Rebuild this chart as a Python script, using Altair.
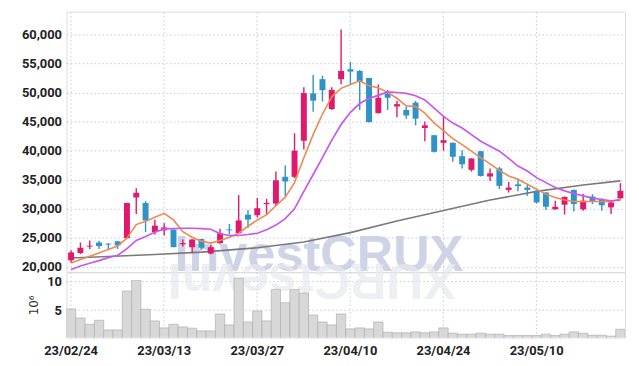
import altair as alt
import pandas as pd

dates = ["23/02/24", "23/02/27", "23/02/28",
         "23/03/02", "23/03/03", "23/03/06", "23/03/07", "23/03/08", "23/03/09", "23/03/10",
         "23/03/13", "23/03/14", "23/03/15", "23/03/16", "23/03/17",
         "23/03/20", "23/03/21", "23/03/22", "23/03/23", "23/03/24",
         "23/03/27", "23/03/28", "23/03/29", "23/03/30", "23/03/31",
         "23/04/03", "23/04/04", "23/04/05", "23/04/06", "23/04/07",
         "23/04/10", "23/04/11", "23/04/12", "23/04/13", "23/04/14",
         "23/04/17", "23/04/18", "23/04/19", "23/04/20", "23/04/21",
         "23/04/24", "23/04/25", "23/04/26", "23/04/27", "23/04/28",
         "23/05/02", "23/05/03", "23/05/04", "23/05/08", "23/05/09",
         "23/05/10", "23/05/11", "23/05/12", "23/05/15", "23/05/16",
         "23/05/17", "23/05/18", "23/05/19", "23/05/22", "23/05/23"]

opens = [21140, 22400, 23500, 24200, 24000, 24400, 24950, 31950, 31000, 26000,
         26300, 26400, 23900, 23400, 24800, 22300, 24100, 26450, 25800, 29000,
         28900, 30800, 30900, 35500, 35500, 41700, 49850, 52300, 47150, 52300,
         54000, 53700, 52500, 46450, 49850, 47600, 47000, 48250, 43900, 42650,
         41350, 41350, 39050, 36700, 39900, 35550, 36950, 33250, 34200, 33650,
         33100, 32800, 29900, 30700, 33250, 29900, 32100, 31650, 30250, 31800]
highs = [22850, 24200, 24550, 24500, 24100, 24500, 31050, 33550, 31300, 28100,
         27500, 26450, 24700, 24800, 24850, 23800, 26550, 27400, 32350, 29800,
         31850, 31700, 36400, 37500, 43000, 50900, 53000, 52900, 50900, 60850,
         55250, 53850, 52550, 51400, 50450, 48550, 47600, 48550, 45000, 42700,
         45900, 41400, 40050, 38700, 39950, 36950, 37200, 34650, 35200, 34250,
         33150, 32850, 31400, 32100, 33300, 32600, 32500, 31800, 31150, 34400]
lows = [20700, 22200, 23100, 23100, 22900, 23100, 24900, 29100, 26000, 25600,
        25400, 23400, 23500, 22400, 23000, 22200, 24000, 25600, 25700, 26700,
        28500, 29000, 30500, 32200, 35300, 40200, 46700, 48450, 47000, 51400,
        51400, 47000, 44900, 46400, 47000, 45750, 45500, 44350, 41600, 39700,
        40000, 38100, 36950, 36400, 35550, 34800, 33400, 32800, 33000, 32250,
        30900, 29800, 29900, 29000, 29550, 29650, 30800, 29650, 29100, 31700]
closes = [22500, 23300, 23650, 23600, 23850, 23700, 31000, 32750, 28000, 27100,
          26800, 23400, 24100, 24700, 23300, 23400, 25800, 26300, 28000, 28150,
          30100, 31000, 34900, 34700, 40000, 49900, 48600, 50400, 50450, 53700,
          53600, 51850, 44900, 49100, 49100, 48000, 46050, 45500, 44350, 39800,
          41800, 38950, 37650, 38650, 35650, 36100, 33950, 33650, 33900, 33250,
          31100, 30350, 30350, 32050, 30800, 31400, 31250, 30600, 31100, 33100]

ma5 = [20680, 21260, 21830, 22390, 23020, 23600, 24950, 27280, 27850, 28530,
       29210, 28090, 26050, 25120, 24440, 24100, 24560, 25120, 25800, 27000,
       28050, 28990, 30520, 32000, 34510, 38770, 42760, 46300, 49290, 50710,
       51390, 52020, 51170, 50830, 50030, 49010, 47700, 47590, 46440, 44730,
       43440, 42070, 41050, 39910, 38770, 37740, 36620, 35650, 35080, 34230,
       33370, 32520, 31940, 31500, 31260, 31260, 31260, 31260, 31260, 31670]
ma20 = [19550, 20170, 20630, 21090, 21600, 22000, 23140, 24560, 25240, 25970,
        26550, 26600, 26650, 26650, 26600, 26490, 25700, 25410, 25410, 25580,
        25800, 26380, 27200, 28300, 30000, 33000, 35900, 38800, 41800, 44500,
        46600, 48100, 49000, 49500, 50100, 50000, 49850, 49450, 48730, 47300,
        45900, 44740, 43890, 42750, 41610, 40760, 39910, 38660, 37350, 36500,
        35360, 34500, 33650, 33090, 32630, 32230, 31840, 31600, 31380, 31500]
ma60_dates = ["23/02/24", "23/03/03", "23/03/10", "23/03/17", "23/03/27", "23/04/03",
              "23/04/10", "23/04/17", "23/04/24", "23/05/02", "23/05/10", "23/05/17",
              "23/05/23"]
ma60 = [21540, 21800, 22150, 22550, 23300, 24300, 25900, 27900, 29700, 31500,
        33000, 34100, 34800]

volumes = [5.22, 3.67, 2.58, 3.27, 1.6, 1.6, 8.33, 10.17, 5.17, 3.16,
           1.95, 2.58, 2.12, 1.9, 1.43, 1.43, 4.36, 2.47, 10.57, 2.98,
           4.88, 3.16, 8.62, 6.31, 8.62, 7.98, 4.19, 2.98, 2.47, 4.36,
           1.78, 1.95, 1.78, 2.98, 1.2, 1.09, 1.09, 1.26, 1.09, 1.26,
           1.95, 1.03, 0.86, 0.86, 1.03, 0.86, 0.86, 0.62, 0.62, 0.62,
           0.62, 0.86, 0.62, 0.86, 1.26, 1.03, 0.67, 0.67, 0.52, 1.72]

tick_dates = ["23/02/24", "23/03/13", "23/03/27", "23/04/10", "23/04/24", "23/05/10"]
price_ticks = [20000, 25000, 30000, 35000, 40000, 45000, 50000, 55000, 60000]
volume_ticks = [5, 10]

RED = "#e2186c"
BLUE = "#2f93c7"
ORANGE = "#ee8a4f"
PURPLE = "#c957ef"
GRAY = "#7a7a7a"
GRID = "#c3c8dc"
FONT = "Roboto"

df = pd.DataFrame({
    "date": dates, "open": opens, "high": highs, "low": lows, "close": closes,
    "ma5": ma5, "ma20": ma20, "volume": volumes,
})
df["dir"] = ["up" if c >= o else "down" for o, c in zip(opens, closes)]
df60 = pd.DataFrame({"date": ma60_dates, "ma60": ma60})

W = 564
H_MAIN = 263
H_VOL = 66

xscale = alt.Scale(type="band", domain=dates, paddingInner=0, paddingOuter=0)
x_main = alt.X("date:O", scale=xscale, title=None,
               axis=alt.Axis(values=tick_dates, labels=False, ticks=False, domain=False,
                             grid=True, gridColor=GRID, gridDash=[1.5, 2.5]))
x_vol = alt.X("date:O", scale=xscale, title=None,
              axis=alt.Axis(values=tick_dates, labels=True, ticks=False, domain=False,
                            grid=True, gridColor=GRID, gridDash=[1.5, 2.5],
                            labelFont=FONT, labelFontWeight="bold", labelFontSize=13,
                            labelColor="#222", labelPadding=7, labelAngle=0,
                            labelOverlap=False))

yscale = alt.Scale(domain=[19100, 63900], zero=False, nice=False)
y_axis = alt.Axis(values=price_ticks, format=",d", ticks=False, domain=False,
                  grid=True, gridColor=GRID, gridDash=[1.5, 2.5],
                  labelFont=FONT, labelFontWeight="bold", labelFontSize=13,
                  labelColor="#222", labelPadding=5, labelOverlap=False,
                  minExtent=53, maxExtent=53)

color = alt.Color("dir:N", scale=alt.Scale(domain=["up", "down"], range=[RED, BLUE]), legend=None)

base = alt.Chart(df)

watermark = alt.Chart(pd.DataFrame({"t": ["InvestCRUX"]})).mark_text(
    font="Liberation Sans", fontWeight="bold", fontSize=51, color="#c9d0e4",
    align="left", baseline="alphabetic", opacity=0.9
).encode(text="t:N", x=alt.value(109), y=alt.value(262))

wicks = base.mark_rule(strokeWidth=1.4).encode(
    x=x_main, y=alt.Y("low:Q", scale=yscale, axis=y_axis, title=None), y2="high:Q", color=color)
bodies = base.mark_bar(width=6).encode(
    x=x_main, y=alt.Y("open:Q", scale=yscale, axis=y_axis, title=None), y2="close:Q", color=color)
line5 = base.mark_line(color=ORANGE, strokeWidth=1.6).encode(
    x=x_main, y=alt.Y("ma5:Q", scale=yscale, axis=y_axis, title=None))
line20 = base.mark_line(color=PURPLE, strokeWidth=1.7).encode(
    x=x_main, y=alt.Y("ma20:Q", scale=yscale, axis=y_axis, title=None))
line60 = alt.Chart(df60).mark_line(color=GRAY, strokeWidth=1.6).encode(
    x=x_main, y=alt.Y("ma60:Q", scale=yscale, axis=y_axis, title=None))

main = alt.layer(watermark, line60, wicks, bodies, line5, line20).properties(
    width=W, height=H_MAIN)

reflection = alt.Chart(pd.DataFrame({"t": ["XURCtsevnI"]})).mark_text(
    font="Liberation Sans", fontWeight="bold", fontSize=51, color="#e8e9ef",
    align="left", baseline="alphabetic", angle=180, opacity=0.7
).encode(text="t:N", x=alt.value(394), y=alt.value(-8))

vol_bars = base.mark_bar(color="#d8d8d8", stroke="#b0b0b0", strokeWidth=0.7, clip=True).encode(
    x=x_vol,
    y=alt.Y("volume:Q", scale=alt.Scale(domain=[0.28, 11.6], zero=False, nice=False),
            title="10⁶",
            axis=alt.Axis(values=volume_ticks, format="d", ticks=False, domain=False,
                          grid=True, gridColor=GRID, gridDash=[1.5, 2.5],
                          labelFont=FONT, labelFontWeight="bold", labelFontSize=13,
                          labelColor="#222", labelPadding=5, labelOverlap=False,
                          minExtent=18, maxExtent=18,
                          titleFont="DejaVu Sans", titleFontSize=12, titleFontWeight="normal",
                          titleColor="#333", titlePadding=8)),
    y2=alt.datum(0),
)

volume = alt.layer(reflection, vol_bars).properties(width=W, height=H_VOL)

chart = alt.vconcat(main, volume, spacing=0, bounds="flush").properties(
    padding={"left": 5, "right": 5, "top": 1, "bottom": 5}
).configure_view(stroke="#c8c8c8").configure(background="white")

chart.save("out.html", embed_options={"renderer": "svg", "actions": False})
